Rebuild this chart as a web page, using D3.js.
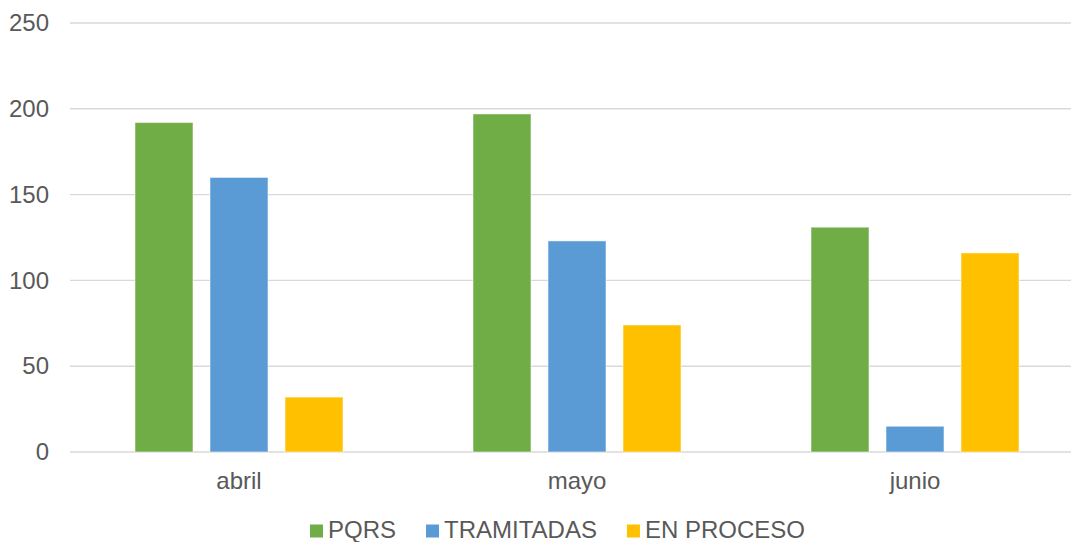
<!DOCTYPE html>
<html><head><meta charset="utf-8">
<script src="https://cdn.jsdelivr.net/npm/d3@7"></script>
<style>body{margin:0;background:#fff;overflow:hidden}svg{display:block;font-family:"Liberation Sans",Arial,sans-serif}</style>
</head><body>
<svg id="c" width="1071" height="542"></svg>
<script>
const categories = ["abril", "mayo", "junio"];
const seriesNames = ["PQRS", "TRAMITADAS", "EN PROCESO"];
const pqrs = [192, 197, 131];
const tramitadas = [160, 123, 15];
const enProceso = [32, 74, 116];
const yTicks = [0, 50, 100, 150, 200, 250];
const colors = ["#70AD47", "#5B9BD5", "#FFC000"];
const seriesValues = [pqrs, tramitadas, enProceso];

(function () {
const svg = d3.select("#c");
const pLeft = 70, pRight = 1084, pTop = 23, pBottom = 452;
const x = d3.scaleBand().domain(categories).range([pLeft, pRight]).padding(0);
const xs = d3.scaleBand().domain(seriesNames).range([65, 65 + 208]).paddingInner(0.227).paddingOuter(0);
const y = d3.scaleLinear().domain([0, 250]).range([pBottom, pTop]);
const textColor = "#595959";
const fs = "24px";

// gridlines
svg.append("g").selectAll("line").data(yTicks).join("line")
  .attr("x1", pLeft).attr("x2", pRight)
  .attr("y1", d => y(d)).attr("y2", d => y(d))
  .attr("stroke", "#d9d9d9").attr("stroke-width", 1.4);

// y labels
const yAxis = d3.axisLeft(y).tickValues(yTicks).tickSize(0).tickPadding(0);
const ya = svg.append("g").attr("transform", "translate(49,0)").call(yAxis);
ya.select(".domain").remove();
ya.selectAll("text").attr("fill", textColor).style("font-size", fs).style("font-family", "Liberation Sans, Arial, sans-serif");

// bars
const g = svg.append("g");
seriesNames.forEach((s, si) => {
  g.append("g").selectAll("rect").data(categories).join("rect")
    .attr("x", c => x(c) + xs(s))
    .attr("width", xs.bandwidth())
    .attr("y", (c, i) => y(seriesValues[si][i]))
    .attr("height", (c, i) => pBottom - y(seriesValues[si][i]))
    .attr("fill", colors[si])
    .attr("stroke", "#ffffff").attr("stroke-opacity", 0.5).attr("stroke-width", 1);
});

// x labels
const xAxis = d3.axisBottom(x).tickSize(0).tickPadding(0);
const xa = svg.append("g").attr("transform", `translate(0,${pBottom})`).call(xAxis);
xa.select(".domain").remove();
xa.selectAll("text").attr("dy", null).attr("y", 37).attr("fill", textColor)
  .style("font-size", fs).style("font-family", "Liberation Sans, Arial, sans-serif");

// legend
const lg = svg.append("g");
let lx = 310;
seriesNames.forEach((s, i) => {
  lg.append("rect").attr("x", lx).attr("y", 524.5).attr("width", 13).attr("height", 13).attr("fill", colors[i]);
  const t = lg.append("text").attr("x", lx + 18).attr("y", 537.5).attr("fill", textColor)
    .style("font-size", fs).text(s);
  lx += 18 + t.node().getComputedTextLength() + 30;
});
})();
</script>
</body></html>
